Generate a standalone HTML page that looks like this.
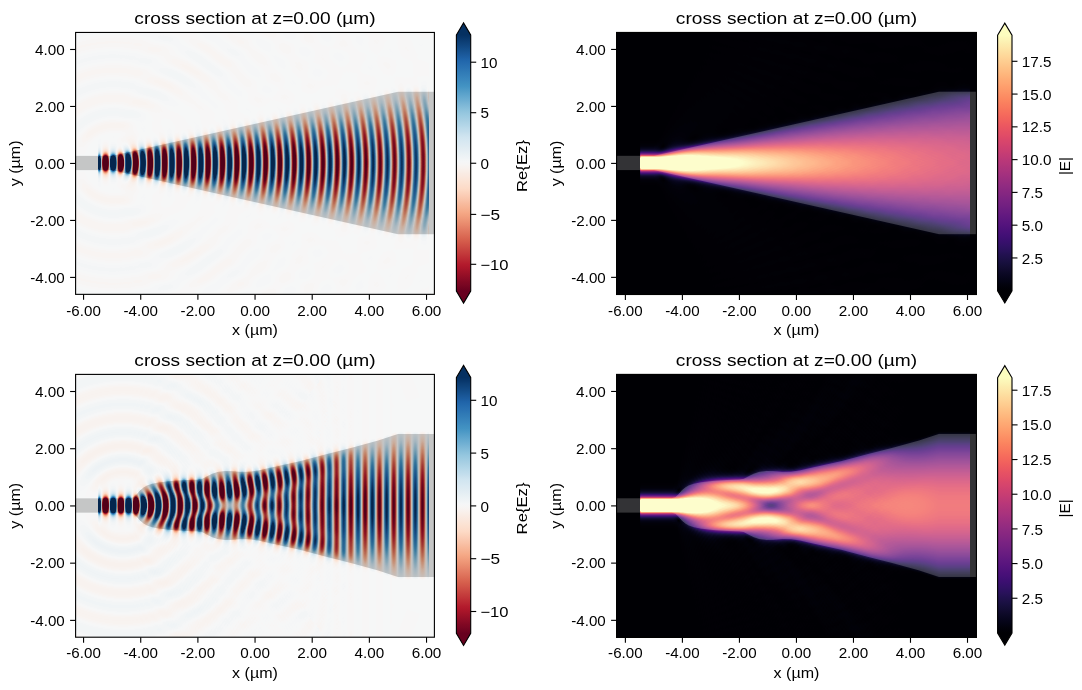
<!DOCTYPE html>
<html><head><meta charset="utf-8"><title>fields</title>
<style>
html,body{margin:0;padding:0;background:#fff;}
#root{position:relative;width:1082px;height:690px;overflow:hidden;background:#fff;}
#cv{position:absolute;left:0;top:0;}
#ov{position:absolute;left:0;top:0;}
text{fill:#000;}
</style></head><body><div id="root">
<svg id="fb" width="1082" height="690" viewBox="0 0 1082 690" style="position:absolute;left:0;top:0">
<clipPath id="fcTL"><rect x="97.9" y="32.5" width="330.7" height="261.9"/></clipPath>
<rect x="75.6" y="32.5" width="358.8" height="261.9" fill="#f6f7f7"/>
<linearGradient id="fsTL" gradientUnits="userSpaceOnUse" x1="97.86" y1="0" x2="112.25" y2="0" spreadMethod="repeat"><stop offset="0" stop-color="#f6f7f7"/><stop offset="0.12" stop-color="#2a6aa8"/><stop offset="0.25" stop-color="#0a3466"/><stop offset="0.38" stop-color="#2a6aa8"/><stop offset="0.5" stop-color="#f6f7f7"/><stop offset="0.62" stop-color="#c0393f"/><stop offset="0.75" stop-color="#7a0b24"/><stop offset="0.88" stop-color="#c0393f"/><stop offset="1" stop-color="#f6f7f7"/></linearGradient>
<linearGradient id="fsTLl" gradientUnits="userSpaceOnUse" x1="97.86" y1="0" x2="112.25" y2="0" spreadMethod="repeat"><stop offset="0" stop-color="#f6f7f7"/><stop offset="0.25" stop-color="#6fa6cf"/><stop offset="0.5" stop-color="#f6f7f7"/><stop offset="0.75" stop-color="#e0876e"/><stop offset="1" stop-color="#f6f7f7"/></linearGradient>
<filter id="bvTL" x="-5%" y="-20%" width="110%" height="140%"><feGaussianBlur stdDeviation="0 5"/></filter>
<g clip-path="url(#fcTL)"><polygon points="72.1,156.3 112.2,156.3 397.9,92.2 438.0,92.2 438.0,234.7 397.9,234.7 112.2,170.6 72.1,170.6" fill="url(#fsTLl)"/><polygon points="72.1,158.5 112.2,158.5 397.9,113.6 438.0,113.6 438.0,213.3 397.9,213.3 112.2,168.4 72.1,168.4" fill="url(#fsTL)" filter="url(#bvTL)"/></g>
<polygon points="72.1,156.3 112.2,156.3 397.9,92.2 438.0,92.2 438.0,234.7 397.9,234.7 112.2,170.6 72.1,170.6" fill="#000" fill-opacity="0.2"/>
<clipPath id="fcTR"><rect x="639.6" y="32.5" width="329.9" height="262.1"/></clipPath>
<rect x="616.6" y="32.5" width="359.8" height="262.1" fill="#000004"/>
<linearGradient id="faTR" gradientUnits="userSpaceOnUse" x1="639.6" y1="0" x2="969.5" y2="0"><stop offset="0" stop-color="#fcfdbf"/><stop offset="0.3" stop-color="#fcf0b0"/><stop offset="0.45" stop-color="#fdb482"/><stop offset="0.65" stop-color="#f2866e"/><stop offset="1" stop-color="#e0677a"/></linearGradient>
<filter id="bvTR" x="-5%" y="-20%" width="110%" height="140%"><feGaussianBlur stdDeviation="0 8"/></filter>
<g clip-path="url(#fcTR)"><polygon points="614.0,156.3 653.9,156.3 939.0,92.2 978.9,92.2 978.9,234.6 939.0,234.6 653.9,170.5 614.0,170.5" fill="#7a2a8a"/><polygon points="614.0,158.8 653.9,158.8 939.0,117.1 978.9,117.1 978.9,209.7 939.0,209.7 653.9,168.0 614.0,168.0" fill="url(#faTR)" filter="url(#bvTR)"/></g>
<polygon points="614.0,156.3 653.9,156.3 939.0,92.2 978.9,92.2 978.9,234.6 939.0,234.6 653.9,170.5 614.0,170.5" fill="#fff" fill-opacity="0.2"/>
<clipPath id="fcBL"><rect x="97.9" y="374.4" width="330.7" height="262.8"/></clipPath>
<rect x="75.6" y="374.4" width="358.8" height="262.8" fill="#f6f7f7"/>
<linearGradient id="fsBL" gradientUnits="userSpaceOnUse" x1="97.86" y1="0" x2="112.25" y2="0" spreadMethod="repeat"><stop offset="0" stop-color="#f6f7f7"/><stop offset="0.12" stop-color="#2a6aa8"/><stop offset="0.25" stop-color="#0a3466"/><stop offset="0.38" stop-color="#2a6aa8"/><stop offset="0.5" stop-color="#f6f7f7"/><stop offset="0.62" stop-color="#c0393f"/><stop offset="0.75" stop-color="#7a0b24"/><stop offset="0.88" stop-color="#c0393f"/><stop offset="1" stop-color="#f6f7f7"/></linearGradient>
<linearGradient id="fsBLl" gradientUnits="userSpaceOnUse" x1="97.86" y1="0" x2="112.25" y2="0" spreadMethod="repeat"><stop offset="0" stop-color="#f6f7f7"/><stop offset="0.25" stop-color="#6fa6cf"/><stop offset="0.5" stop-color="#f6f7f7"/><stop offset="0.75" stop-color="#e0876e"/><stop offset="1" stop-color="#f6f7f7"/></linearGradient>
<filter id="bvBL" x="-5%" y="-20%" width="110%" height="140%"><feGaussianBlur stdDeviation="0 5"/></filter>
<g clip-path="url(#fcBL)"><polygon points="72.1,498.8 129.9,498.8 133.6,497.7 136.7,494.8 140.2,490.8 143.6,487.9 147.0,485.9 152.2,484.2 159.3,482.8 172.2,481.3 186.5,480.5 197.9,480.1 202.2,479.3 206.5,477.1 212.2,474.2 217.9,472.3 225.0,471.5 232.2,471.6 240.8,472.3 249.3,472.2 257.9,471.0 266.5,469.0 300.2,461.6 325.9,454.7 351.9,448.2 377.9,441.0 397.9,434.4 438.0,434.4 438.0,577.5 397.9,577.5 377.9,570.9 351.9,563.7 325.9,557.2 300.2,550.3 266.5,542.9 257.9,540.9 249.3,539.7 240.8,539.6 232.2,540.3 225.0,540.4 217.9,539.6 212.2,537.7 206.5,534.8 202.2,532.6 197.9,531.8 186.5,531.4 172.2,530.6 159.3,529.1 152.2,527.7 147.0,526.0 143.6,524.0 140.2,521.1 136.7,517.1 133.6,514.2 129.9,513.1 72.1,513.1" fill="url(#fsBLl)"/><polygon points="72.1,500.9 129.9,500.9 133.6,500.1 136.7,498.1 140.2,495.3 143.6,493.3 147.0,491.9 152.2,490.7 159.3,489.7 172.2,488.7 186.5,488.1 197.9,487.8 202.2,487.3 206.5,485.7 212.2,483.7 217.9,482.4 225.0,481.8 232.2,481.9 240.8,482.4 249.3,482.3 257.9,481.5 266.5,480.1 300.2,474.9 325.9,470.1 351.9,465.5 377.9,460.5 397.9,455.9 438.0,455.9 438.0,556.0 397.9,556.0 377.9,551.4 351.9,546.4 325.9,541.8 300.2,537.0 266.5,531.8 257.9,530.4 249.3,529.6 240.8,529.5 232.2,530.0 225.0,530.1 217.9,529.5 212.2,528.2 206.5,526.2 202.2,524.6 197.9,524.1 186.5,523.8 172.2,523.2 159.3,522.2 152.2,521.2 147.0,520.0 143.6,518.6 140.2,516.6 136.7,513.8 133.6,511.8 129.9,511.0 72.1,511.0" fill="url(#fsBL)" filter="url(#bvBL)"/></g>
<polygon points="72.1,498.8 129.9,498.8 133.6,497.7 136.7,494.8 140.2,490.8 143.6,487.9 147.0,485.9 152.2,484.2 159.3,482.8 172.2,481.3 186.5,480.5 197.9,480.1 202.2,479.3 206.5,477.1 212.2,474.2 217.9,472.3 225.0,471.5 232.2,471.6 240.8,472.3 249.3,472.2 257.9,471.0 266.5,469.0 300.2,461.6 325.9,454.7 351.9,448.2 377.9,441.0 397.9,434.4 438.0,434.4 438.0,577.5 397.9,577.5 377.9,570.9 351.9,563.7 325.9,557.2 300.2,550.3 266.5,542.9 257.9,540.9 249.3,539.7 240.8,539.6 232.2,540.3 225.0,540.4 217.9,539.6 212.2,537.7 206.5,534.8 202.2,532.6 197.9,531.8 186.5,531.4 172.2,530.6 159.3,529.1 152.2,527.7 147.0,526.0 143.6,524.0 140.2,521.1 136.7,517.1 133.6,514.2 129.9,513.1 72.1,513.1" fill="#000" fill-opacity="0.2"/>
<clipPath id="fcBR"><rect x="639.6" y="374.4" width="329.9" height="262.9"/></clipPath>
<rect x="616.6" y="374.4" width="359.8" height="262.9" fill="#000004"/>
<linearGradient id="faBR" gradientUnits="userSpaceOnUse" x1="639.6" y1="0" x2="969.5" y2="0"><stop offset="0" stop-color="#fcfdbf"/><stop offset="0.3" stop-color="#fcf0b0"/><stop offset="0.45" stop-color="#fdb482"/><stop offset="0.65" stop-color="#f2866e"/><stop offset="1" stop-color="#e0677a"/></linearGradient>
<filter id="bvBR" x="-5%" y="-20%" width="110%" height="140%"><feGaussianBlur stdDeviation="0 8"/></filter>
<g clip-path="url(#fcBR)"><polygon points="614.0,498.7 671.6,498.7 675.3,497.6 678.4,494.7 681.8,490.7 685.3,487.9 688.7,485.9 693.8,484.2 700.9,482.7 713.8,481.3 728.0,480.4 739.4,480.0 743.7,479.3 748.0,477.0 753.7,474.1 759.4,472.3 766.5,471.4 773.6,471.6 782.2,472.3 790.7,472.1 799.3,471.0 807.9,469.0 841.5,461.6 867.2,454.7 893.1,448.1 919.0,441.0 939.0,434.4 978.9,434.4 978.9,577.4 939.0,577.4 919.0,570.8 893.1,563.7 867.2,557.1 841.5,550.2 807.9,542.8 799.3,540.8 790.7,539.7 782.2,539.5 773.6,540.2 766.5,540.4 759.4,539.5 753.7,537.7 748.0,534.8 743.7,532.5 739.4,531.8 728.0,531.4 713.8,530.5 700.9,529.1 693.8,527.6 688.7,525.9 685.3,523.9 681.8,521.1 678.4,517.1 675.3,514.2 671.6,513.1 614.0,513.1" fill="#7a2a8a"/><polygon points="614.0,501.3 671.6,501.3 675.3,500.5 678.4,498.6 681.8,496.0 685.3,494.2 688.7,492.9 693.8,491.8 700.9,490.8 713.8,489.9 728.0,489.3 739.4,489.1 743.7,488.6 748.0,487.1 753.7,485.3 759.4,484.0 766.5,483.5 773.6,483.6 782.2,484.0 790.7,484.0 799.3,483.2 807.9,481.9 841.5,477.1 867.2,472.6 893.1,468.3 919.0,463.7 939.0,459.4 978.9,459.4 978.9,552.4 939.0,552.4 919.0,548.1 893.1,543.5 867.2,539.2 841.5,534.7 807.9,529.9 799.3,528.6 790.7,527.8 782.2,527.8 773.6,528.2 766.5,528.3 759.4,527.8 753.7,526.5 748.0,524.7 743.7,523.2 739.4,522.7 728.0,522.5 713.8,521.9 700.9,521.0 693.8,520.0 688.7,518.9 685.3,517.6 681.8,515.8 678.4,513.2 675.3,511.3 671.6,510.5 614.0,510.5" fill="url(#faBR)" filter="url(#bvBR)"/></g>
<polygon points="614.0,498.7 671.6,498.7 675.3,497.6 678.4,494.7 681.8,490.7 685.3,487.9 688.7,485.9 693.8,484.2 700.9,482.7 713.8,481.3 728.0,480.4 739.4,480.0 743.7,479.3 748.0,477.0 753.7,474.1 759.4,472.3 766.5,471.4 773.6,471.6 782.2,472.3 790.7,472.1 799.3,471.0 807.9,469.0 841.5,461.6 867.2,454.7 893.1,448.1 919.0,441.0 939.0,434.4 978.9,434.4 978.9,577.4 939.0,577.4 919.0,570.8 893.1,563.7 867.2,557.1 841.5,550.2 807.9,542.8 799.3,540.8 790.7,539.7 782.2,539.5 773.6,540.2 766.5,540.4 759.4,539.5 753.7,537.7 748.0,534.8 743.7,532.5 739.4,531.8 728.0,531.4 713.8,530.5 700.9,529.1 693.8,527.6 688.7,525.9 685.3,523.9 681.8,521.1 678.4,517.1 675.3,514.2 671.6,513.1 614.0,513.1" fill="#fff" fill-opacity="0.2"/>
</svg>
<canvas id="cv" width="1082" height="690"></canvas>
<svg id="ov" width="1082" height="690" viewBox="0 0 1082 690" font-family="Liberation Sans, sans-serif">
<rect x="75.60" y="32.45" width="358.80" height="261.90" fill="none" stroke="#000" stroke-width="1.11"/>
<line x1="83.57" y1="294.35" x2="83.57" y2="299.85" stroke="#000" stroke-width="1.11"/>
<text x="83.57" y="315.90" font-size="14.70" text-anchor="middle" textLength="34.50" lengthAdjust="spacingAndGlyphs">-6.00</text>
<line x1="140.73" y1="294.35" x2="140.73" y2="299.85" stroke="#000" stroke-width="1.11"/>
<text x="140.73" y="315.90" font-size="14.70" text-anchor="middle" textLength="34.50" lengthAdjust="spacingAndGlyphs">-4.00</text>
<line x1="197.89" y1="294.35" x2="197.89" y2="299.85" stroke="#000" stroke-width="1.11"/>
<text x="197.89" y="315.90" font-size="14.70" text-anchor="middle" textLength="34.50" lengthAdjust="spacingAndGlyphs">-2.00</text>
<line x1="255.05" y1="294.35" x2="255.05" y2="299.85" stroke="#000" stroke-width="1.11"/>
<text x="255.05" y="315.90" font-size="14.70" text-anchor="middle" textLength="29.69" lengthAdjust="spacingAndGlyphs">0.00</text>
<line x1="312.21" y1="294.35" x2="312.21" y2="299.85" stroke="#000" stroke-width="1.11"/>
<text x="312.21" y="315.90" font-size="14.70" text-anchor="middle" textLength="29.69" lengthAdjust="spacingAndGlyphs">2.00</text>
<line x1="369.37" y1="294.35" x2="369.37" y2="299.85" stroke="#000" stroke-width="1.11"/>
<text x="369.37" y="315.90" font-size="14.70" text-anchor="middle" textLength="29.69" lengthAdjust="spacingAndGlyphs">4.00</text>
<line x1="426.53" y1="294.35" x2="426.53" y2="299.85" stroke="#000" stroke-width="1.11"/>
<text x="426.53" y="315.90" font-size="14.70" text-anchor="middle" textLength="29.69" lengthAdjust="spacingAndGlyphs">6.00</text>
<line x1="70.10" y1="277.41" x2="75.60" y2="277.41" stroke="#000" stroke-width="1.11"/>
<text x="64.80" y="282.61" font-size="14.70" text-anchor="end" textLength="34.50" lengthAdjust="spacingAndGlyphs">-4.00</text>
<line x1="70.10" y1="220.43" x2="75.60" y2="220.43" stroke="#000" stroke-width="1.11"/>
<text x="64.80" y="225.63" font-size="14.70" text-anchor="end" textLength="34.50" lengthAdjust="spacingAndGlyphs">-2.00</text>
<line x1="70.10" y1="163.45" x2="75.60" y2="163.45" stroke="#000" stroke-width="1.11"/>
<text x="64.80" y="168.65" font-size="14.70" text-anchor="end" textLength="29.69" lengthAdjust="spacingAndGlyphs">0.00</text>
<line x1="70.10" y1="106.47" x2="75.60" y2="106.47" stroke="#000" stroke-width="1.11"/>
<text x="64.80" y="111.67" font-size="14.70" text-anchor="end" textLength="29.69" lengthAdjust="spacingAndGlyphs">2.00</text>
<line x1="70.10" y1="49.49" x2="75.60" y2="49.49" stroke="#000" stroke-width="1.11"/>
<text x="64.80" y="54.69" font-size="14.70" text-anchor="end" textLength="29.69" lengthAdjust="spacingAndGlyphs">4.00</text>
<text x="255.00" y="334.95" font-size="14.70" text-anchor="middle" textLength="45.84" lengthAdjust="spacingAndGlyphs">x (µm)</text>
<text transform="translate(20.20 163.40) rotate(-90)" font-size="14.70" text-anchor="middle" textLength="45.84" lengthAdjust="spacingAndGlyphs">y (µm)</text>
<text x="255.00" y="24.15" font-size="17.40" text-anchor="middle" textLength="241.26" lengthAdjust="spacingAndGlyphs">cross section at z=0.00 (µm)</text>
<rect x="616.60" y="32.45" width="359.80" height="262.05" fill="none" stroke="#000" stroke-width="1.11"/>
<line x1="625.39" y1="294.50" x2="625.39" y2="300.00" stroke="#000" stroke-width="1.11"/>
<text x="625.39" y="316.05" font-size="14.70" text-anchor="middle" textLength="34.50" lengthAdjust="spacingAndGlyphs">-6.00</text>
<line x1="682.41" y1="294.50" x2="682.41" y2="300.00" stroke="#000" stroke-width="1.11"/>
<text x="682.41" y="316.05" font-size="14.70" text-anchor="middle" textLength="34.50" lengthAdjust="spacingAndGlyphs">-4.00</text>
<line x1="739.43" y1="294.50" x2="739.43" y2="300.00" stroke="#000" stroke-width="1.11"/>
<text x="739.43" y="316.05" font-size="14.70" text-anchor="middle" textLength="34.50" lengthAdjust="spacingAndGlyphs">-2.00</text>
<line x1="796.45" y1="294.50" x2="796.45" y2="300.00" stroke="#000" stroke-width="1.11"/>
<text x="796.45" y="316.05" font-size="14.70" text-anchor="middle" textLength="29.69" lengthAdjust="spacingAndGlyphs">0.00</text>
<line x1="853.47" y1="294.50" x2="853.47" y2="300.00" stroke="#000" stroke-width="1.11"/>
<text x="853.47" y="316.05" font-size="14.70" text-anchor="middle" textLength="29.69" lengthAdjust="spacingAndGlyphs">2.00</text>
<line x1="910.49" y1="294.50" x2="910.49" y2="300.00" stroke="#000" stroke-width="1.11"/>
<text x="910.49" y="316.05" font-size="14.70" text-anchor="middle" textLength="29.69" lengthAdjust="spacingAndGlyphs">4.00</text>
<line x1="967.51" y1="294.50" x2="967.51" y2="300.00" stroke="#000" stroke-width="1.11"/>
<text x="967.51" y="316.05" font-size="14.70" text-anchor="middle" textLength="29.69" lengthAdjust="spacingAndGlyphs">6.00</text>
<line x1="611.10" y1="277.36" x2="616.60" y2="277.36" stroke="#000" stroke-width="1.11"/>
<text x="605.80" y="282.56" font-size="14.70" text-anchor="end" textLength="34.50" lengthAdjust="spacingAndGlyphs">-4.00</text>
<line x1="611.10" y1="220.38" x2="616.60" y2="220.38" stroke="#000" stroke-width="1.11"/>
<text x="605.80" y="225.58" font-size="14.70" text-anchor="end" textLength="34.50" lengthAdjust="spacingAndGlyphs">-2.00</text>
<line x1="611.10" y1="163.40" x2="616.60" y2="163.40" stroke="#000" stroke-width="1.11"/>
<text x="605.80" y="168.60" font-size="14.70" text-anchor="end" textLength="29.69" lengthAdjust="spacingAndGlyphs">0.00</text>
<line x1="611.10" y1="106.42" x2="616.60" y2="106.42" stroke="#000" stroke-width="1.11"/>
<text x="605.80" y="111.62" font-size="14.70" text-anchor="end" textLength="29.69" lengthAdjust="spacingAndGlyphs">2.00</text>
<line x1="611.10" y1="49.44" x2="616.60" y2="49.44" stroke="#000" stroke-width="1.11"/>
<text x="605.80" y="54.64" font-size="14.70" text-anchor="end" textLength="29.69" lengthAdjust="spacingAndGlyphs">4.00</text>
<text x="796.50" y="335.10" font-size="14.70" text-anchor="middle" textLength="45.84" lengthAdjust="spacingAndGlyphs">x (µm)</text>
<text transform="translate(561.20 163.47) rotate(-90)" font-size="14.70" text-anchor="middle" textLength="45.84" lengthAdjust="spacingAndGlyphs">y (µm)</text>
<text x="796.50" y="24.15" font-size="17.40" text-anchor="middle" textLength="241.26" lengthAdjust="spacingAndGlyphs">cross section at z=0.00 (µm)</text>
<rect x="75.60" y="374.40" width="358.80" height="262.80" fill="none" stroke="#000" stroke-width="1.11"/>
<line x1="83.57" y1="637.20" x2="83.57" y2="642.70" stroke="#000" stroke-width="1.11"/>
<text x="83.57" y="658.05" font-size="14.70" text-anchor="middle" textLength="34.50" lengthAdjust="spacingAndGlyphs">-6.00</text>
<line x1="140.73" y1="637.20" x2="140.73" y2="642.70" stroke="#000" stroke-width="1.11"/>
<text x="140.73" y="658.05" font-size="14.70" text-anchor="middle" textLength="34.50" lengthAdjust="spacingAndGlyphs">-4.00</text>
<line x1="197.89" y1="637.20" x2="197.89" y2="642.70" stroke="#000" stroke-width="1.11"/>
<text x="197.89" y="658.05" font-size="14.70" text-anchor="middle" textLength="34.50" lengthAdjust="spacingAndGlyphs">-2.00</text>
<line x1="255.05" y1="637.20" x2="255.05" y2="642.70" stroke="#000" stroke-width="1.11"/>
<text x="255.05" y="658.05" font-size="14.70" text-anchor="middle" textLength="29.69" lengthAdjust="spacingAndGlyphs">0.00</text>
<line x1="312.21" y1="637.20" x2="312.21" y2="642.70" stroke="#000" stroke-width="1.11"/>
<text x="312.21" y="658.05" font-size="14.70" text-anchor="middle" textLength="29.69" lengthAdjust="spacingAndGlyphs">2.00</text>
<line x1="369.37" y1="637.20" x2="369.37" y2="642.70" stroke="#000" stroke-width="1.11"/>
<text x="369.37" y="658.05" font-size="14.70" text-anchor="middle" textLength="29.69" lengthAdjust="spacingAndGlyphs">4.00</text>
<line x1="426.53" y1="637.20" x2="426.53" y2="642.70" stroke="#000" stroke-width="1.11"/>
<text x="426.53" y="658.05" font-size="14.70" text-anchor="middle" textLength="29.69" lengthAdjust="spacingAndGlyphs">6.00</text>
<line x1="70.10" y1="620.39" x2="75.60" y2="620.39" stroke="#000" stroke-width="1.11"/>
<text x="64.80" y="625.59" font-size="14.70" text-anchor="end" textLength="34.50" lengthAdjust="spacingAndGlyphs">-4.00</text>
<line x1="70.10" y1="563.17" x2="75.60" y2="563.17" stroke="#000" stroke-width="1.11"/>
<text x="64.80" y="568.37" font-size="14.70" text-anchor="end" textLength="34.50" lengthAdjust="spacingAndGlyphs">-2.00</text>
<line x1="70.10" y1="505.95" x2="75.60" y2="505.95" stroke="#000" stroke-width="1.11"/>
<text x="64.80" y="511.15" font-size="14.70" text-anchor="end" textLength="29.69" lengthAdjust="spacingAndGlyphs">0.00</text>
<line x1="70.10" y1="448.73" x2="75.60" y2="448.73" stroke="#000" stroke-width="1.11"/>
<text x="64.80" y="453.93" font-size="14.70" text-anchor="end" textLength="29.69" lengthAdjust="spacingAndGlyphs">2.00</text>
<line x1="70.10" y1="391.51" x2="75.60" y2="391.51" stroke="#000" stroke-width="1.11"/>
<text x="64.80" y="396.71" font-size="14.70" text-anchor="end" textLength="29.69" lengthAdjust="spacingAndGlyphs">4.00</text>
<text x="255.00" y="677.80" font-size="14.70" text-anchor="middle" textLength="45.84" lengthAdjust="spacingAndGlyphs">x (µm)</text>
<text transform="translate(20.20 505.80) rotate(-90)" font-size="14.70" text-anchor="middle" textLength="45.84" lengthAdjust="spacingAndGlyphs">y (µm)</text>
<text x="255.00" y="366.10" font-size="17.40" text-anchor="middle" textLength="241.26" lengthAdjust="spacingAndGlyphs">cross section at z=0.00 (µm)</text>
<rect x="616.60" y="374.40" width="359.80" height="262.90" fill="none" stroke="#000" stroke-width="1.11"/>
<line x1="625.39" y1="637.30" x2="625.39" y2="642.80" stroke="#000" stroke-width="1.11"/>
<text x="625.39" y="658.15" font-size="14.70" text-anchor="middle" textLength="34.50" lengthAdjust="spacingAndGlyphs">-6.00</text>
<line x1="682.41" y1="637.30" x2="682.41" y2="642.80" stroke="#000" stroke-width="1.11"/>
<text x="682.41" y="658.15" font-size="14.70" text-anchor="middle" textLength="34.50" lengthAdjust="spacingAndGlyphs">-4.00</text>
<line x1="739.43" y1="637.30" x2="739.43" y2="642.80" stroke="#000" stroke-width="1.11"/>
<text x="739.43" y="658.15" font-size="14.70" text-anchor="middle" textLength="34.50" lengthAdjust="spacingAndGlyphs">-2.00</text>
<line x1="796.45" y1="637.30" x2="796.45" y2="642.80" stroke="#000" stroke-width="1.11"/>
<text x="796.45" y="658.15" font-size="14.70" text-anchor="middle" textLength="29.69" lengthAdjust="spacingAndGlyphs">0.00</text>
<line x1="853.47" y1="637.30" x2="853.47" y2="642.80" stroke="#000" stroke-width="1.11"/>
<text x="853.47" y="658.15" font-size="14.70" text-anchor="middle" textLength="29.69" lengthAdjust="spacingAndGlyphs">2.00</text>
<line x1="910.49" y1="637.30" x2="910.49" y2="642.80" stroke="#000" stroke-width="1.11"/>
<text x="910.49" y="658.15" font-size="14.70" text-anchor="middle" textLength="29.69" lengthAdjust="spacingAndGlyphs">4.00</text>
<line x1="967.51" y1="637.30" x2="967.51" y2="642.80" stroke="#000" stroke-width="1.11"/>
<text x="967.51" y="658.15" font-size="14.70" text-anchor="middle" textLength="29.69" lengthAdjust="spacingAndGlyphs">6.00</text>
<line x1="611.10" y1="620.34" x2="616.60" y2="620.34" stroke="#000" stroke-width="1.11"/>
<text x="605.80" y="625.54" font-size="14.70" text-anchor="end" textLength="34.50" lengthAdjust="spacingAndGlyphs">-4.00</text>
<line x1="611.10" y1="563.12" x2="616.60" y2="563.12" stroke="#000" stroke-width="1.11"/>
<text x="605.80" y="568.32" font-size="14.70" text-anchor="end" textLength="34.50" lengthAdjust="spacingAndGlyphs">-2.00</text>
<line x1="611.10" y1="505.90" x2="616.60" y2="505.90" stroke="#000" stroke-width="1.11"/>
<text x="605.80" y="511.10" font-size="14.70" text-anchor="end" textLength="29.69" lengthAdjust="spacingAndGlyphs">0.00</text>
<line x1="611.10" y1="448.68" x2="616.60" y2="448.68" stroke="#000" stroke-width="1.11"/>
<text x="605.80" y="453.88" font-size="14.70" text-anchor="end" textLength="29.69" lengthAdjust="spacingAndGlyphs">2.00</text>
<line x1="611.10" y1="391.46" x2="616.60" y2="391.46" stroke="#000" stroke-width="1.11"/>
<text x="605.80" y="396.66" font-size="14.70" text-anchor="end" textLength="29.69" lengthAdjust="spacingAndGlyphs">4.00</text>
<text x="796.50" y="677.90" font-size="14.70" text-anchor="middle" textLength="45.84" lengthAdjust="spacingAndGlyphs">x (µm)</text>
<text transform="translate(561.20 505.85) rotate(-90)" font-size="14.70" text-anchor="middle" textLength="45.84" lengthAdjust="spacingAndGlyphs">y (µm)</text>
<text x="796.50" y="366.10" font-size="17.40" text-anchor="middle" textLength="241.26" lengthAdjust="spacingAndGlyphs">cross section at z=0.00 (µm)</text>
<defs><linearGradient id="gTL" gradientUnits="userSpaceOnUse" x1="0" y1="35.00" x2="0" y2="291.00"><stop offset="0.0000" stop-color="#053061"/><stop offset="0.0118" stop-color="#08366a"/><stop offset="0.0235" stop-color="#0c3d73"/><stop offset="0.0353" stop-color="#0f437b"/><stop offset="0.0471" stop-color="#124984"/><stop offset="0.0588" stop-color="#15508d"/><stop offset="0.0706" stop-color="#195696"/><stop offset="0.0824" stop-color="#1c5c9f"/><stop offset="0.0941" stop-color="#1f63a8"/><stop offset="0.1059" stop-color="#2369ad"/><stop offset="0.1176" stop-color="#276eb0"/><stop offset="0.1294" stop-color="#2b73b3"/><stop offset="0.1412" stop-color="#2f79b5"/><stop offset="0.1529" stop-color="#337eb8"/><stop offset="0.1647" stop-color="#3783bb"/><stop offset="0.1765" stop-color="#3b88be"/><stop offset="0.1882" stop-color="#3f8ec0"/><stop offset="0.2000" stop-color="#4393c3"/><stop offset="0.2118" stop-color="#4c99c6"/><stop offset="0.2235" stop-color="#569fc9"/><stop offset="0.2353" stop-color="#5fa5cd"/><stop offset="0.2471" stop-color="#68abd0"/><stop offset="0.2588" stop-color="#71b0d3"/><stop offset="0.2706" stop-color="#7bb6d6"/><stop offset="0.2824" stop-color="#84bcd9"/><stop offset="0.2941" stop-color="#8dc2dc"/><stop offset="0.3059" stop-color="#96c7df"/><stop offset="0.3176" stop-color="#9dcbe1"/><stop offset="0.3294" stop-color="#a5cee3"/><stop offset="0.3412" stop-color="#acd2e5"/><stop offset="0.3529" stop-color="#b3d6e8"/><stop offset="0.3647" stop-color="#bbdaea"/><stop offset="0.3765" stop-color="#c2ddec"/><stop offset="0.3882" stop-color="#cae1ee"/><stop offset="0.4000" stop-color="#d1e5f0"/><stop offset="0.4118" stop-color="#d5e7f1"/><stop offset="0.4235" stop-color="#dae9f2"/><stop offset="0.4353" stop-color="#deebf2"/><stop offset="0.4471" stop-color="#e3edf3"/><stop offset="0.4588" stop-color="#e7f0f4"/><stop offset="0.4706" stop-color="#ecf2f5"/><stop offset="0.4824" stop-color="#f0f4f6"/><stop offset="0.4941" stop-color="#f5f6f7"/><stop offset="0.5059" stop-color="#f7f5f4"/><stop offset="0.5176" stop-color="#f8f2ef"/><stop offset="0.5294" stop-color="#f9efe9"/><stop offset="0.5412" stop-color="#f9ebe3"/><stop offset="0.5529" stop-color="#fae8de"/><stop offset="0.5647" stop-color="#fbe5d8"/><stop offset="0.5765" stop-color="#fce2d2"/><stop offset="0.5882" stop-color="#fcdecd"/><stop offset="0.6000" stop-color="#fddbc7"/><stop offset="0.6118" stop-color="#fcd5bf"/><stop offset="0.6235" stop-color="#fbceb7"/><stop offset="0.6353" stop-color="#fac8af"/><stop offset="0.6471" stop-color="#f9c2a7"/><stop offset="0.6588" stop-color="#f8bb9e"/><stop offset="0.6706" stop-color="#f7b596"/><stop offset="0.6824" stop-color="#f6af8e"/><stop offset="0.6941" stop-color="#f5a886"/><stop offset="0.7059" stop-color="#f2a17f"/><stop offset="0.7176" stop-color="#ef9979"/><stop offset="0.7294" stop-color="#eb9172"/><stop offset="0.7412" stop-color="#e8896c"/><stop offset="0.7529" stop-color="#e48066"/><stop offset="0.7647" stop-color="#e17860"/><stop offset="0.7765" stop-color="#dd7059"/><stop offset="0.7882" stop-color="#da6853"/><stop offset="0.8000" stop-color="#d6604d"/><stop offset="0.8118" stop-color="#d25849"/><stop offset="0.8235" stop-color="#ce4f45"/><stop offset="0.8353" stop-color="#c94741"/><stop offset="0.8471" stop-color="#c53e3d"/><stop offset="0.8588" stop-color="#c13639"/><stop offset="0.8706" stop-color="#bd2d35"/><stop offset="0.8824" stop-color="#b82531"/><stop offset="0.8941" stop-color="#b41c2d"/><stop offset="0.9059" stop-color="#ae172a"/><stop offset="0.9176" stop-color="#a51429"/><stop offset="0.9294" stop-color="#9c1127"/><stop offset="0.9412" stop-color="#930e26"/><stop offset="0.9529" stop-color="#8a0b25"/><stop offset="0.9647" stop-color="#810823"/><stop offset="0.9765" stop-color="#790622"/><stop offset="0.9882" stop-color="#700320"/><stop offset="1.0000" stop-color="#67001f"/><stop offset="1" stop-color="#67001f"/></linearGradient></defs>
<polygon points="456.40,35.00 463.55,22.90 470.70,35.00 470.70,291.00 463.55,303.10 456.40,291.00" fill="url(#gTL)"/>
<polygon points="456.40,35.00 463.55,22.90 470.70,35.00 470.70,291.00 463.55,303.10 456.40,291.00" fill="none" stroke="#000" stroke-width="1.11" stroke-linejoin="miter"/>
<line x1="470.70" y1="62.20" x2="476.20" y2="62.20" stroke="#000" stroke-width="1.11"/>
<text x="480.42" y="67.80" font-size="14.70" textLength="16.97" lengthAdjust="spacingAndGlyphs">10</text>
<line x1="470.70" y1="112.70" x2="476.20" y2="112.70" stroke="#000" stroke-width="1.11"/>
<text x="480.42" y="118.30" font-size="14.70" textLength="8.48" lengthAdjust="spacingAndGlyphs">5</text>
<line x1="470.70" y1="163.25" x2="476.20" y2="163.25" stroke="#000" stroke-width="1.11"/>
<text x="480.42" y="168.85" font-size="14.70" textLength="8.48" lengthAdjust="spacingAndGlyphs">0</text>
<line x1="470.70" y1="214.40" x2="476.20" y2="214.40" stroke="#000" stroke-width="1.11"/>
<text x="480.42" y="220.00" font-size="14.70" textLength="19.66" lengthAdjust="spacingAndGlyphs">−5</text>
<line x1="470.70" y1="264.30" x2="476.20" y2="264.30" stroke="#000" stroke-width="1.11"/>
<text x="480.42" y="269.90" font-size="14.70" textLength="28.14" lengthAdjust="spacingAndGlyphs">−10</text>
<text transform="translate(527.40 166.00) rotate(-90)" font-size="14.70" text-anchor="middle" textLength="51.94" lengthAdjust="spacingAndGlyphs">Re{Ez}</text>
<defs><linearGradient id="gTR" gradientUnits="userSpaceOnUse" x1="0" y1="35.20" x2="0" y2="290.90"><stop offset="0.0000" stop-color="#fcfdbf"/><stop offset="0.0118" stop-color="#fcf7b9"/><stop offset="0.0235" stop-color="#fcf2b4"/><stop offset="0.0353" stop-color="#fcecae"/><stop offset="0.0471" stop-color="#fde7a9"/><stop offset="0.0588" stop-color="#fde2a3"/><stop offset="0.0706" stop-color="#fddc9e"/><stop offset="0.0824" stop-color="#fed799"/><stop offset="0.0941" stop-color="#fed194"/><stop offset="0.1059" stop-color="#fecc8f"/><stop offset="0.1176" stop-color="#fec68a"/><stop offset="0.1294" stop-color="#fec185"/><stop offset="0.1412" stop-color="#febb81"/><stop offset="0.1529" stop-color="#feb67c"/><stop offset="0.1647" stop-color="#feb078"/><stop offset="0.1765" stop-color="#feaa74"/><stop offset="0.1882" stop-color="#fea571"/><stop offset="0.2000" stop-color="#fe9f6d"/><stop offset="0.2118" stop-color="#fd9a6a"/><stop offset="0.2235" stop-color="#fd9467"/><stop offset="0.2353" stop-color="#fc8e64"/><stop offset="0.2471" stop-color="#fc8961"/><stop offset="0.2588" stop-color="#fb835f"/><stop offset="0.2706" stop-color="#fa7d5e"/><stop offset="0.2824" stop-color="#f9785d"/><stop offset="0.2941" stop-color="#f7725c"/><stop offset="0.3059" stop-color="#f66c5c"/><stop offset="0.3176" stop-color="#f4675c"/><stop offset="0.3294" stop-color="#f2625d"/><stop offset="0.3412" stop-color="#ef5d5e"/><stop offset="0.3529" stop-color="#ec5860"/><stop offset="0.3647" stop-color="#e95462"/><stop offset="0.3765" stop-color="#e55064"/><stop offset="0.3882" stop-color="#e24d66"/><stop offset="0.4000" stop-color="#de4968"/><stop offset="0.4118" stop-color="#d9466b"/><stop offset="0.4235" stop-color="#d5446d"/><stop offset="0.4353" stop-color="#d0416f"/><stop offset="0.4471" stop-color="#cc3f71"/><stop offset="0.4588" stop-color="#c73d73"/><stop offset="0.4706" stop-color="#c23b75"/><stop offset="0.4824" stop-color="#bd3977"/><stop offset="0.4941" stop-color="#b83779"/><stop offset="0.5059" stop-color="#b3367a"/><stop offset="0.5176" stop-color="#ae347b"/><stop offset="0.5294" stop-color="#aa337d"/><stop offset="0.5412" stop-color="#a5317e"/><stop offset="0.5529" stop-color="#a02f7f"/><stop offset="0.5647" stop-color="#9b2e7f"/><stop offset="0.5765" stop-color="#962c80"/><stop offset="0.5882" stop-color="#912b81"/><stop offset="0.6000" stop-color="#8c2981"/><stop offset="0.6118" stop-color="#882781"/><stop offset="0.6235" stop-color="#832681"/><stop offset="0.6353" stop-color="#7e2482"/><stop offset="0.6471" stop-color="#792282"/><stop offset="0.6588" stop-color="#752181"/><stop offset="0.6706" stop-color="#701f81"/><stop offset="0.6824" stop-color="#6b1d81"/><stop offset="0.6941" stop-color="#671b80"/><stop offset="0.7059" stop-color="#621980"/><stop offset="0.7176" stop-color="#5d177f"/><stop offset="0.7294" stop-color="#59157e"/><stop offset="0.7412" stop-color="#54137d"/><stop offset="0.7529" stop-color="#4f127b"/><stop offset="0.7647" stop-color="#4a1079"/><stop offset="0.7765" stop-color="#451077"/><stop offset="0.7882" stop-color="#400f74"/><stop offset="0.8000" stop-color="#3b0f70"/><stop offset="0.8118" stop-color="#36106b"/><stop offset="0.8235" stop-color="#311165"/><stop offset="0.8353" stop-color="#2c115f"/><stop offset="0.8471" stop-color="#271258"/><stop offset="0.8588" stop-color="#221150"/><stop offset="0.8706" stop-color="#1e1149"/><stop offset="0.8824" stop-color="#1a1042"/><stop offset="0.8941" stop-color="#160f3b"/><stop offset="0.9059" stop-color="#130d34"/><stop offset="0.9176" stop-color="#100b2d"/><stop offset="0.9294" stop-color="#0c0926"/><stop offset="0.9412" stop-color="#090720"/><stop offset="0.9529" stop-color="#06051a"/><stop offset="0.9647" stop-color="#040414"/><stop offset="0.9765" stop-color="#02020d"/><stop offset="0.9882" stop-color="#010108"/><stop offset="1.0000" stop-color="#000004"/><stop offset="1" stop-color="#000004"/></linearGradient></defs>
<polygon points="997.60,35.20 1004.80,23.10 1012.00,35.20 1012.00,290.90 1004.80,303.00 997.60,290.90" fill="url(#gTR)"/>
<polygon points="997.60,35.20 1004.80,23.10 1012.00,35.20 1012.00,290.90 1004.80,303.00 997.60,290.90" fill="none" stroke="#000" stroke-width="1.11" stroke-linejoin="miter"/>
<line x1="1012.00" y1="61.30" x2="1017.50" y2="61.30" stroke="#000" stroke-width="1.11"/>
<text x="1021.72" y="66.90" font-size="14.70" textLength="29.69" lengthAdjust="spacingAndGlyphs">17.5</text>
<line x1="1012.00" y1="94.07" x2="1017.50" y2="94.07" stroke="#000" stroke-width="1.11"/>
<text x="1021.72" y="99.67" font-size="14.70" textLength="29.69" lengthAdjust="spacingAndGlyphs">15.0</text>
<line x1="1012.00" y1="126.85" x2="1017.50" y2="126.85" stroke="#000" stroke-width="1.11"/>
<text x="1021.72" y="132.45" font-size="14.70" textLength="29.69" lengthAdjust="spacingAndGlyphs">12.5</text>
<line x1="1012.00" y1="159.62" x2="1017.50" y2="159.62" stroke="#000" stroke-width="1.11"/>
<text x="1021.72" y="165.22" font-size="14.70" textLength="29.69" lengthAdjust="spacingAndGlyphs">10.0</text>
<line x1="1012.00" y1="192.40" x2="1017.50" y2="192.40" stroke="#000" stroke-width="1.11"/>
<text x="1021.72" y="198.00" font-size="14.70" textLength="21.21" lengthAdjust="spacingAndGlyphs">7.5</text>
<line x1="1012.00" y1="225.18" x2="1017.50" y2="225.18" stroke="#000" stroke-width="1.11"/>
<text x="1021.72" y="230.78" font-size="14.70" textLength="21.21" lengthAdjust="spacingAndGlyphs">5.0</text>
<line x1="1012.00" y1="257.95" x2="1017.50" y2="257.95" stroke="#000" stroke-width="1.11"/>
<text x="1021.72" y="263.55" font-size="14.70" textLength="21.21" lengthAdjust="spacingAndGlyphs">2.5</text>
<text transform="translate(1070.00 166.05) rotate(-90)" font-size="14.70" text-anchor="middle" textLength="18.14" lengthAdjust="spacingAndGlyphs">|E|</text>
<defs><linearGradient id="gBL" gradientUnits="userSpaceOnUse" x1="0" y1="377.50" x2="0" y2="633.40"><stop offset="0.0000" stop-color="#053061"/><stop offset="0.0118" stop-color="#08366a"/><stop offset="0.0235" stop-color="#0c3d73"/><stop offset="0.0353" stop-color="#0f437b"/><stop offset="0.0471" stop-color="#124984"/><stop offset="0.0588" stop-color="#15508d"/><stop offset="0.0706" stop-color="#195696"/><stop offset="0.0824" stop-color="#1c5c9f"/><stop offset="0.0941" stop-color="#1f63a8"/><stop offset="0.1059" stop-color="#2369ad"/><stop offset="0.1176" stop-color="#276eb0"/><stop offset="0.1294" stop-color="#2b73b3"/><stop offset="0.1412" stop-color="#2f79b5"/><stop offset="0.1529" stop-color="#337eb8"/><stop offset="0.1647" stop-color="#3783bb"/><stop offset="0.1765" stop-color="#3b88be"/><stop offset="0.1882" stop-color="#3f8ec0"/><stop offset="0.2000" stop-color="#4393c3"/><stop offset="0.2118" stop-color="#4c99c6"/><stop offset="0.2235" stop-color="#569fc9"/><stop offset="0.2353" stop-color="#5fa5cd"/><stop offset="0.2471" stop-color="#68abd0"/><stop offset="0.2588" stop-color="#71b0d3"/><stop offset="0.2706" stop-color="#7bb6d6"/><stop offset="0.2824" stop-color="#84bcd9"/><stop offset="0.2941" stop-color="#8dc2dc"/><stop offset="0.3059" stop-color="#96c7df"/><stop offset="0.3176" stop-color="#9dcbe1"/><stop offset="0.3294" stop-color="#a5cee3"/><stop offset="0.3412" stop-color="#acd2e5"/><stop offset="0.3529" stop-color="#b3d6e8"/><stop offset="0.3647" stop-color="#bbdaea"/><stop offset="0.3765" stop-color="#c2ddec"/><stop offset="0.3882" stop-color="#cae1ee"/><stop offset="0.4000" stop-color="#d1e5f0"/><stop offset="0.4118" stop-color="#d5e7f1"/><stop offset="0.4235" stop-color="#dae9f2"/><stop offset="0.4353" stop-color="#deebf2"/><stop offset="0.4471" stop-color="#e3edf3"/><stop offset="0.4588" stop-color="#e7f0f4"/><stop offset="0.4706" stop-color="#ecf2f5"/><stop offset="0.4824" stop-color="#f0f4f6"/><stop offset="0.4941" stop-color="#f5f6f7"/><stop offset="0.5059" stop-color="#f7f5f4"/><stop offset="0.5176" stop-color="#f8f2ef"/><stop offset="0.5294" stop-color="#f9efe9"/><stop offset="0.5412" stop-color="#f9ebe3"/><stop offset="0.5529" stop-color="#fae8de"/><stop offset="0.5647" stop-color="#fbe5d8"/><stop offset="0.5765" stop-color="#fce2d2"/><stop offset="0.5882" stop-color="#fcdecd"/><stop offset="0.6000" stop-color="#fddbc7"/><stop offset="0.6118" stop-color="#fcd5bf"/><stop offset="0.6235" stop-color="#fbceb7"/><stop offset="0.6353" stop-color="#fac8af"/><stop offset="0.6471" stop-color="#f9c2a7"/><stop offset="0.6588" stop-color="#f8bb9e"/><stop offset="0.6706" stop-color="#f7b596"/><stop offset="0.6824" stop-color="#f6af8e"/><stop offset="0.6941" stop-color="#f5a886"/><stop offset="0.7059" stop-color="#f2a17f"/><stop offset="0.7176" stop-color="#ef9979"/><stop offset="0.7294" stop-color="#eb9172"/><stop offset="0.7412" stop-color="#e8896c"/><stop offset="0.7529" stop-color="#e48066"/><stop offset="0.7647" stop-color="#e17860"/><stop offset="0.7765" stop-color="#dd7059"/><stop offset="0.7882" stop-color="#da6853"/><stop offset="0.8000" stop-color="#d6604d"/><stop offset="0.8118" stop-color="#d25849"/><stop offset="0.8235" stop-color="#ce4f45"/><stop offset="0.8353" stop-color="#c94741"/><stop offset="0.8471" stop-color="#c53e3d"/><stop offset="0.8588" stop-color="#c13639"/><stop offset="0.8706" stop-color="#bd2d35"/><stop offset="0.8824" stop-color="#b82531"/><stop offset="0.8941" stop-color="#b41c2d"/><stop offset="0.9059" stop-color="#ae172a"/><stop offset="0.9176" stop-color="#a51429"/><stop offset="0.9294" stop-color="#9c1127"/><stop offset="0.9412" stop-color="#930e26"/><stop offset="0.9529" stop-color="#8a0b25"/><stop offset="0.9647" stop-color="#810823"/><stop offset="0.9765" stop-color="#790622"/><stop offset="0.9882" stop-color="#700320"/><stop offset="1.0000" stop-color="#67001f"/><stop offset="1" stop-color="#67001f"/></linearGradient></defs>
<polygon points="456.40,377.50 463.55,365.40 470.70,377.50 470.70,633.40 463.55,645.50 456.40,633.40" fill="url(#gBL)"/>
<polygon points="456.40,377.50 463.55,365.40 470.70,377.50 470.70,633.40 463.55,645.50 456.40,633.40" fill="none" stroke="#000" stroke-width="1.11" stroke-linejoin="miter"/>
<line x1="470.70" y1="400.30" x2="476.20" y2="400.30" stroke="#000" stroke-width="1.11"/>
<text x="480.42" y="405.90" font-size="14.70" textLength="16.97" lengthAdjust="spacingAndGlyphs">10</text>
<line x1="470.70" y1="453.10" x2="476.20" y2="453.10" stroke="#000" stroke-width="1.11"/>
<text x="480.42" y="458.70" font-size="14.70" textLength="8.48" lengthAdjust="spacingAndGlyphs">5</text>
<line x1="470.70" y1="505.90" x2="476.20" y2="505.90" stroke="#000" stroke-width="1.11"/>
<text x="480.42" y="511.50" font-size="14.70" textLength="8.48" lengthAdjust="spacingAndGlyphs">0</text>
<line x1="470.70" y1="558.70" x2="476.20" y2="558.70" stroke="#000" stroke-width="1.11"/>
<text x="480.42" y="564.30" font-size="14.70" textLength="19.66" lengthAdjust="spacingAndGlyphs">−5</text>
<line x1="470.70" y1="611.50" x2="476.20" y2="611.50" stroke="#000" stroke-width="1.11"/>
<text x="480.42" y="617.10" font-size="14.70" textLength="28.14" lengthAdjust="spacingAndGlyphs">−10</text>
<text transform="translate(527.40 508.45) rotate(-90)" font-size="14.70" text-anchor="middle" textLength="51.94" lengthAdjust="spacingAndGlyphs">Re{Ez}</text>
<defs><linearGradient id="gBR" gradientUnits="userSpaceOnUse" x1="0" y1="377.80" x2="0" y2="633.00"><stop offset="0.0000" stop-color="#fcfdbf"/><stop offset="0.0118" stop-color="#fcf7b9"/><stop offset="0.0235" stop-color="#fcf2b4"/><stop offset="0.0353" stop-color="#fcecae"/><stop offset="0.0471" stop-color="#fde7a9"/><stop offset="0.0588" stop-color="#fde2a3"/><stop offset="0.0706" stop-color="#fddc9e"/><stop offset="0.0824" stop-color="#fed799"/><stop offset="0.0941" stop-color="#fed194"/><stop offset="0.1059" stop-color="#fecc8f"/><stop offset="0.1176" stop-color="#fec68a"/><stop offset="0.1294" stop-color="#fec185"/><stop offset="0.1412" stop-color="#febb81"/><stop offset="0.1529" stop-color="#feb67c"/><stop offset="0.1647" stop-color="#feb078"/><stop offset="0.1765" stop-color="#feaa74"/><stop offset="0.1882" stop-color="#fea571"/><stop offset="0.2000" stop-color="#fe9f6d"/><stop offset="0.2118" stop-color="#fd9a6a"/><stop offset="0.2235" stop-color="#fd9467"/><stop offset="0.2353" stop-color="#fc8e64"/><stop offset="0.2471" stop-color="#fc8961"/><stop offset="0.2588" stop-color="#fb835f"/><stop offset="0.2706" stop-color="#fa7d5e"/><stop offset="0.2824" stop-color="#f9785d"/><stop offset="0.2941" stop-color="#f7725c"/><stop offset="0.3059" stop-color="#f66c5c"/><stop offset="0.3176" stop-color="#f4675c"/><stop offset="0.3294" stop-color="#f2625d"/><stop offset="0.3412" stop-color="#ef5d5e"/><stop offset="0.3529" stop-color="#ec5860"/><stop offset="0.3647" stop-color="#e95462"/><stop offset="0.3765" stop-color="#e55064"/><stop offset="0.3882" stop-color="#e24d66"/><stop offset="0.4000" stop-color="#de4968"/><stop offset="0.4118" stop-color="#d9466b"/><stop offset="0.4235" stop-color="#d5446d"/><stop offset="0.4353" stop-color="#d0416f"/><stop offset="0.4471" stop-color="#cc3f71"/><stop offset="0.4588" stop-color="#c73d73"/><stop offset="0.4706" stop-color="#c23b75"/><stop offset="0.4824" stop-color="#bd3977"/><stop offset="0.4941" stop-color="#b83779"/><stop offset="0.5059" stop-color="#b3367a"/><stop offset="0.5176" stop-color="#ae347b"/><stop offset="0.5294" stop-color="#aa337d"/><stop offset="0.5412" stop-color="#a5317e"/><stop offset="0.5529" stop-color="#a02f7f"/><stop offset="0.5647" stop-color="#9b2e7f"/><stop offset="0.5765" stop-color="#962c80"/><stop offset="0.5882" stop-color="#912b81"/><stop offset="0.6000" stop-color="#8c2981"/><stop offset="0.6118" stop-color="#882781"/><stop offset="0.6235" stop-color="#832681"/><stop offset="0.6353" stop-color="#7e2482"/><stop offset="0.6471" stop-color="#792282"/><stop offset="0.6588" stop-color="#752181"/><stop offset="0.6706" stop-color="#701f81"/><stop offset="0.6824" stop-color="#6b1d81"/><stop offset="0.6941" stop-color="#671b80"/><stop offset="0.7059" stop-color="#621980"/><stop offset="0.7176" stop-color="#5d177f"/><stop offset="0.7294" stop-color="#59157e"/><stop offset="0.7412" stop-color="#54137d"/><stop offset="0.7529" stop-color="#4f127b"/><stop offset="0.7647" stop-color="#4a1079"/><stop offset="0.7765" stop-color="#451077"/><stop offset="0.7882" stop-color="#400f74"/><stop offset="0.8000" stop-color="#3b0f70"/><stop offset="0.8118" stop-color="#36106b"/><stop offset="0.8235" stop-color="#311165"/><stop offset="0.8353" stop-color="#2c115f"/><stop offset="0.8471" stop-color="#271258"/><stop offset="0.8588" stop-color="#221150"/><stop offset="0.8706" stop-color="#1e1149"/><stop offset="0.8824" stop-color="#1a1042"/><stop offset="0.8941" stop-color="#160f3b"/><stop offset="0.9059" stop-color="#130d34"/><stop offset="0.9176" stop-color="#100b2d"/><stop offset="0.9294" stop-color="#0c0926"/><stop offset="0.9412" stop-color="#090720"/><stop offset="0.9529" stop-color="#06051a"/><stop offset="0.9647" stop-color="#040414"/><stop offset="0.9765" stop-color="#02020d"/><stop offset="0.9882" stop-color="#010108"/><stop offset="1.0000" stop-color="#000004"/><stop offset="1" stop-color="#000004"/></linearGradient></defs>
<polygon points="997.60,377.80 1004.80,365.70 1012.00,377.80 1012.00,633.00 1004.80,645.10 997.60,633.00" fill="url(#gBR)"/>
<polygon points="997.60,377.80 1004.80,365.70 1012.00,377.80 1012.00,633.00 1004.80,645.10 997.60,633.00" fill="none" stroke="#000" stroke-width="1.11" stroke-linejoin="miter"/>
<line x1="1012.00" y1="390.20" x2="1017.50" y2="390.20" stroke="#000" stroke-width="1.11"/>
<text x="1021.72" y="395.80" font-size="14.70" textLength="29.69" lengthAdjust="spacingAndGlyphs">17.5</text>
<line x1="1012.00" y1="424.88" x2="1017.50" y2="424.88" stroke="#000" stroke-width="1.11"/>
<text x="1021.72" y="430.48" font-size="14.70" textLength="29.69" lengthAdjust="spacingAndGlyphs">15.0</text>
<line x1="1012.00" y1="459.55" x2="1017.50" y2="459.55" stroke="#000" stroke-width="1.11"/>
<text x="1021.72" y="465.15" font-size="14.70" textLength="29.69" lengthAdjust="spacingAndGlyphs">12.5</text>
<line x1="1012.00" y1="494.22" x2="1017.50" y2="494.22" stroke="#000" stroke-width="1.11"/>
<text x="1021.72" y="499.82" font-size="14.70" textLength="29.69" lengthAdjust="spacingAndGlyphs">10.0</text>
<line x1="1012.00" y1="528.90" x2="1017.50" y2="528.90" stroke="#000" stroke-width="1.11"/>
<text x="1021.72" y="534.50" font-size="14.70" textLength="21.21" lengthAdjust="spacingAndGlyphs">7.5</text>
<line x1="1012.00" y1="563.58" x2="1017.50" y2="563.58" stroke="#000" stroke-width="1.11"/>
<text x="1021.72" y="569.18" font-size="14.70" textLength="21.21" lengthAdjust="spacingAndGlyphs">5.0</text>
<line x1="1012.00" y1="598.25" x2="1017.50" y2="598.25" stroke="#000" stroke-width="1.11"/>
<text x="1021.72" y="603.85" font-size="14.70" textLength="21.21" lengthAdjust="spacingAndGlyphs">2.5</text>
<text transform="translate(1070.00 508.40) rotate(-90)" font-size="14.70" text-anchor="middle" textLength="18.14" lengthAdjust="spacingAndGlyphs">|E|</text>
</svg>
</div>
<script>
(function(){
var RDBU="67001f6a011f6d02207003207304217605217906227c07227f0823810823840924870a248a0b258d0c25900d26930e26960f279910279c11279f1228a21328a51429a81529ab162aae172ab1182bb3192cb41c2db61f2eb72230b82531ba2832bb2a34bd2d35be3036bf3338c13639c2383ac43b3cc53e3dc6413ec84440c94741cb4942cc4c44ce4f45cf5246d05548d25849d35a4ad55d4cd6604dd7634fd86551da6853db6b55dc6e57dd7059de735cdf765ee17860e27b62e37e64e48066e58368e6866ae8896ce98b6eea8e70eb9172ec9374ee9677ef9979f09c7bf19e7df2a17ff3a481f4a683f5a886f5aa89f5ac8bf6af8ef6b191f6b394f7b596f7b799f7b99cf8bb9ef8bda1f8bfa4f9c2a7f9c4a9f9c6acfac8affacab1fbccb4fbceb7fbd0b9fcd3bcfcd5bffcd7c2fdd9c4fddbc7fddcc9fdddcbfcdecdfcdfcffce0d0fce2d2fbe3d4fbe4d6fbe5d8fbe6dafae7dcfae8defae9dffaeae1f9ebe3f9ede5f9eee7f9efe9f9f0ebf8f1edf8f2eff8f3f0f8f4f2f7f5f4f7f6f6f6f7f7f5f6f7f3f5f6f2f5f6f0f4f6eff3f5edf2f5ecf2f5eaf1f5e9f0f4e7f0f4e6eff4e4eef4e3edf3e1edf3e0ecf3deebf2ddebf2dbeaf2dae9f2d8e9f1d7e8f1d5e7f1d4e6f1d2e6f0d1e5f0cfe4efcce2efcae1eec7e0edc5dfecc2ddecc0dcebbddbeabbdaeab8d8e9b6d7e8b3d6e8b1d5e7aed3e6acd2e5a9d1e5a7d0e4a5cee3a2cde3a0cce29dcbe19bc9e098c8e096c7df93c6de90c4dd8dc2dc8ac0db87beda84bcd981bad87eb8d77bb6d678b4d575b2d471b0d36eaed26bacd168abd065a9cf62a7ce5fa5cd5ca3cb59a1ca569fc9529dc84f9bc74c99c64997c54695c44393c34291c2408fc13f8ec03e8cbf3c8abe3b88be3a87bd3885bc3783bb3681ba3480b9337eb8327cb7307ab62f79b52e77b52c75b42b73b32a71b22870b1276eb0266caf246aae2369ad2267ac2065ab1f63a81e61a51d5fa21c5c9f1b5a9c1a589919569618549317529015508d144e8a134c8712498411478110457e0f437b0e41790d3f760c3d730a3b7009386d08366a073467063264053061", MAGMA="00000401000501010601010802010902020b02020d03030f03031204041405041606051806051a07061c08071e0907200a08220b09240c09260d0a290e0b2b100b2d110c2f120d31130d34140e36150e38160f3b180f3d19103f1a10421c10441d11471e114920114b21114e22115024125325125527125829115a2a115c2c115f2d11612f116331116533106734106936106b38106c390f6e3b0f703d0f713f0f72400f74420f75440f764510774710784910784a10794c117a4e117b4f127b51127c52137c54137d56147d57157e59157e5a167e5c167f5d177f5f187f601880621980641a80651a80671b80681c816a1c816b1d816d1d816e1e81701f81721f817320817521817621817822817922827b23827c23827e24828025828125818326818426818627818827818928818b29818c29818e2a81902a81912b81932b80942c80962c80982d80992d809b2e7f9c2e7f9e2f7fa02f7fa1307ea3307ea5317ea6317da8327daa337dab337cad347cae347bb0357bb2357bb3367ab5367ab73779b83779ba3878bc3978bd3977bf3a77c03a76c23b75c43c75c53c74c73d73c83e73ca3e72cc3f71cd4071cf4070d0416fd2426fd3436ed5446dd6456cd8456cd9466bdb476adc4869de4968df4a68e04c67e24d66e34e65e44f64e55064e75263e85362e95462ea5661eb5760ec5860ed5a5fee5b5eef5d5ef05f5ef1605df2625df2645cf3655cf4675cf4695cf56b5cf66c5cf66e5cf7705cf7725cf8745cf8765cf9785df9795df97b5dfa7d5efa7f5efa815ffb835ffb8560fb8761fc8961fc8a62fc8c63fc8e64fc9065fd9266fd9467fd9668fd9869fd9a6afd9b6bfe9d6cfe9f6dfea16efea36ffea571fea772fea973feaa74feac76feae77feb078feb27afeb47bfeb67cfeb77efeb97ffebb81febd82febf84fec185fec287fec488fec68afec88cfeca8dfecc8ffecd90fecf92fed194fed395fed597fed799fed89afdda9cfddc9efddea0fde0a1fde2a3fde3a5fde5a7fde7a9fde9aafdebacfcecaefceeb0fcf0b2fcf2b4fcf4b6fcf6b8fcf7b9fcf9bbfcfbbdfcfdbf";
var AX={"TL": {"L": 75.6, "R": 434.4, "T": 32.45, "B": 294.35, "x0": 255.05, "sx": 28.58, "y0": 163.45, "sy": 28.49}, "TR": {"L": 616.6, "R": 976.4, "T": 32.45, "B": 294.5, "x0": 796.45, "sx": 28.51, "y0": 163.4, "sy": 28.49}, "BL": {"L": 75.6, "R": 434.4, "T": 374.4, "B": 637.2, "x0": 255.05, "sx": 28.58, "y0": 505.95, "sy": 28.61}, "BR": {"L": 616.6, "R": 976.4, "T": 374.4, "B": 637.3, "x0": 796.45, "sx": 28.51, "y0": 505.9, "sy": 28.61}};
function lut(s){var a=new Uint8Array(768);for(var i=0;i<768;i++)a[i]=parseInt(s.substr(2*i,2),16);return a;}
var LRe=lut(RDBU), LAbs=lut(MAGMA);

/* ---------- geometry (half widths, um) ---------- */
function hwA(x){ if(x<-5) return 0.25; if(x>5) return 2.5; return 0.25+0.225*(x+5); }
var PB=[[-7,0.25],[-4.38,0.25],[-4.25,0.29],[-4.14,0.39],[-4.02,0.53],[-3.9,0.63],[-3.78,0.70],[-3.6,0.76],[-3.35,0.81],[-2.9,0.86],[-2.4,0.89],[-2.0,0.905],[-1.85,0.93],[-1.7,1.01],[-1.5,1.11],[-1.3,1.175],[-1.05,1.205],[-0.8,1.2],[-0.5,1.175],[-0.2,1.18],[0.1,1.22],[0.4,1.29],[1.58,1.55],[2.48,1.79],[3.39,2.02],[4.3,2.27],[5.0,2.5],[7,2.5]];
function hwB(x){ for(var i=1;i<PB.length;i++){ if(x<=PB[i][0]){ var a=PB[i-1],b=PB[i]; var t=(x-a[0])/(b[0]-a[0]); return a[1]+t*(b[1]-a[1]); } } return 2.5; }

/* ---------- paraxial Crank-Nicolson BPM ---------- */
function bpm(hw,P){
  var k0=2*Math.PI/P.lam, nc2=P.nc*P.nc, ncl2=P.ncl*P.ncl, n0=P.n0, n02=n0*n0;
  var Y=P.Ymax, dy=P.dy, Ny=Math.round(2*Y/dy)+1, dx=P.dx, xs=P.xs, Nx=Math.round((P.xe-xs)/dx)+1;
  var ys=new Float64Array(Ny), kap=new Float64Array(Ny), j;
  for(j=0;j<Ny;j++){ys[j]=-Y+j*dy; var ay=Math.abs(ys[j]); if(ay>P.Yabs){var t=(ay-P.Yabs)/(Y-P.Yabs); kap[j]=P.kmax*t*t;}}
  var n2=new Float64Array(Ny);
  function n2at(x){var h=hw(x); for(var j=0;j<Ny;j++){var d=(h-Math.abs(ys[j]))/dy+0.5; var f=d<0?0:(d>1?1:d); n2[j]=ncl2+(nc2-ncl2)*f;}}
  var c=dy*dy*k0*k0;
  /* mode: imaginary distance */
  var ur=new Float64Array(Ny), ui=new Float64Array(Ny);
  for(j=0;j<Ny;j++) ur[j]=Math.exp(-ys[j]*ys[j]/(2*0.18*0.18));
  n2at(xs-0.05);
  var D=new Float64Array(Ny), cp=new Float64Array(Ny), dp=new Float64Array(Ny), r=new Float64Array(Ny);
  var a=P.tau/(4*k0*n0*dy*dy);
  for(var it=0;it<P.nit;it++){
    for(j=0;j<Ny;j++){var q=2-c*(n2[j]-n02); D[j]=1+a*q; r[j]=(j>0?a*ur[j-1]:0)+(1-a*q)*ur[j]+(j<Ny-1?a*ur[j+1]:0);}
    var den=D[0]; cp[0]=-a/den; dp[0]=r[0]/den;
    for(j=1;j<Ny;j++){den=D[j]+a*cp[j-1]; cp[j]=-a/den; dp[j]=(r[j]+a*dp[j-1])/den;}
    ur[Ny-1]=dp[Ny-1]; for(j=Ny-2;j>=0;j--) ur[j]=dp[j]-cp[j]*ur[j+1];
    var m=0; for(j=0;j<Ny;j++) if(Math.abs(ur[j])>m) m=Math.abs(ur[j]);
    for(j=0;j<Ny;j++) ur[j]/=m;
  }
  /* real propagation: Pade(1,1) wide-angle CN */
  var outR=new Float32Array(Nx*Ny), outI=new Float32Array(Nx*Ny);
  var k2=k0*k0, idy2=1/(dy*dy);
  var zr=P.pade?1/(4*k2*n02):0, zi=dx/(4*k0*n0);
  /* zL=(zr,-zi) zR=(zr,zi) ; s=zL/dy2 */
  var sr=zr*idy2, si=-zi*idy2;
  var Dr=new Float64Array(Ny), Di=new Float64Array(Ny), rr=new Float64Array(Ny), ri=new Float64Array(Ny);
  var cpr=new Float64Array(Ny), cpi=new Float64Array(Ny), dpr=new Float64Array(Ny), dpi=new Float64Array(Ny);
  var pw=new Float64Array(Nx);
  for(j=0;j<Ny;j++){outR[j]=ur[j]; outI[j]=0; pw[0]+=ur[j]*ur[j]*dy;}
  for(var st=1;st<Nx;st++){
    var xm=xs+(st-0.5)*dx; n2at(xm);
    for(j=0;j<Ny;j++){
      var pr=-2*idy2+k2*(n2[j]-n02), pi=k2*kap[j];
      /* diag = 1 + zL*(pr+i pi) ; zL=(zr,-zi) */
      Dr[j]=1+zr*pr+zi*pi; Di[j]=zr*pi-zi*pr;
      /* Pu = (u[j+1]+u[j-1])*idy2 + (pr+i pi)*u */
      var nbr=((j>0?ur[j-1]:0)+(j<Ny-1?ur[j+1]:0))*idy2, nbi=((j>0?ui[j-1]:0)+(j<Ny-1?ui[j+1]:0))*idy2;
      var Pr=nbr+pr*ur[j]-pi*ui[j], Pi=nbi+pr*ui[j]+pi*ur[j];
      /* r = u + zR*Pu ; zR=(zr,zi) */
      rr[j]=ur[j]+zr*Pr-zi*Pi; ri[j]=ui[j]+zr*Pi+zi*Pr;
    }
    var dr=Dr[0], di=Di[0], dd=dr*dr+di*di;
    cpr[0]=(sr*dr+si*di)/dd; cpi[0]=(si*dr-sr*di)/dd;
    dpr[0]=(rr[0]*dr+ri[0]*di)/dd; dpi[0]=(ri[0]*dr-rr[0]*di)/dd;
    for(j=1;j<Ny;j++){
      /* den = D - s*cp */
      dr=Dr[j]-(sr*cpr[j-1]-si*cpi[j-1]); di=Di[j]-(sr*cpi[j-1]+si*cpr[j-1]); dd=dr*dr+di*di;
      cpr[j]=(sr*dr+si*di)/dd; cpi[j]=(si*dr-sr*di)/dd;
      var nr=rr[j]-(sr*dpr[j-1]-si*dpi[j-1]), ni=ri[j]-(sr*dpi[j-1]+si*dpr[j-1]);
      dpr[j]=(nr*dr+ni*di)/dd; dpi[j]=(ni*dr-nr*di)/dd;
    }
    ur[Ny-1]=dpr[Ny-1]; ui[Ny-1]=dpi[Ny-1];
    for(j=Ny-2;j>=0;j--){
      var tr=cpr[j]*ur[j+1]-cpi[j]*ui[j+1], ti=cpr[j]*ui[j+1]+cpi[j]*ur[j+1];
      ur[j]=dpr[j]-tr; ui[j]=dpi[j]-ti;
    }
    var o=st*Ny, sp=0; for(j=0;j<Ny;j++){outR[o+j]=ur[j]; outI[o+j]=ui[j]; if(Math.abs(ys[j])<P.Yabs) sp+=(ur[j]*ur[j]+ui[j]*ui[j])*dy;} pw[st]=sp;
  }
  return {PW:pw,R:outR,I:outI,Nx:Nx,Ny:Ny,dx:dx,dy:dy,xs:xs,Y:Y,k0:k0,n0:n0};
}

var P={lam:1.0,nc:2.0,ncl:1.0,n0:1.97,Ymax:5.3,Yabs:4.7,kmax:0.6,dy:0.0125,dx:0.0125,xs:-5.5,xe:6.1,tau:0.05,nit:300,pade:1};
var XEND=6.07;

function sstep(a,b,x){var t=(x-a)/(b-a); t=t<0?0:(t>1?1:t); return t*t*(3-2*t);}
function interpU(F,xc,yc){
  var fx=(xc-F.xs)/F.dx, fy=(yc+F.Y)/F.dy;
  var ix=Math.floor(fx), iy=Math.floor(fy); if(ix>F.Nx-2) ix=F.Nx-2; if(ix<0)ix=0;
  if(iy<0)iy=0; if(iy>F.Ny-2)iy=F.Ny-2;
  var tx=fx-ix, ty=fy-iy;
  var o00=ix*F.Ny+iy, o10=o00+F.Ny;
  var ar=(1-tx)*((1-ty)*F.R[o00]+ty*F.R[o00+1])+tx*((1-ty)*F.R[o10]+ty*F.R[o10+1]);
  var ai=(1-tx)*((1-ty)*F.I[o00]+ty*F.I[o00+1])+tx*((1-ty)*F.I[o10]+ty*F.I[o10+1]);
  return [ar,ai];
}
function render(ctx,ax0,F,hw,kind,opt){
  var ax={L:ax0.L,R:ax0.R,T:ax0.T,B:ax0.B,x0:ax0.x0,sx:ax0.sx,y0:ax0.y0-0.45,sy:ax0.sy};
  var L=Math.floor(ax.L), R=Math.ceil(ax.R), T=Math.floor(ax.T), B=Math.ceil(ax.B);
  var W=R-L, H=B-T;
  var vals=new Float32Array(W*H), cov=new Float32Array(W*H), inside=new Uint8Array(W*H), rip=new Float32Array(W*H);
  var k0n0=F.k0*F.n0, ph=opt.phase||0;
  var dbg=null;
  for(var px=0;px<W;px++){
    var xc=(L+px+0.5-ax.x0)/ax.sx;
    var u0=null, wf=0;
    if(opt.flat && xc>=F.xs && xc<=XEND){ wf=sstep(opt.flat[0],opt.flat[1],xc); if(wf>0) u0=interpU(F,xc,0); }
    var h=hw(xc), wb=0, Ab=0, he=h+(opt.blend?opt.blend[2]:0);
    if(opt.blend && xc>=F.xs && xc<=XEND){ wb=sstep(opt.blend[0],opt.blend[1],xc); if(wb>0){ var ixp=Math.min(F.Nx-1,Math.max(0,Math.round((xc-F.xs)/F.dx))); Ab=Math.sqrt(F.PW[ixp]/he); if(!u0) u0=interpU(F,xc,0);} }
    for(var py=0;py<H;py++){
      var yc=(ax.y0-(T+py+0.5))/ax.sy, idx=py*W+px;
      var xp=(L+px+0.5), ypix=(T+py+0.5);
      inside[idx]=(xp>ax.L-0.5&&xp<ax.R+0.5&&ypix>ax.T-0.5&&ypix<ax.B+0.5)?1:0;
      var d=(h-Math.abs(yc))*ax.sy+0.5; cov[idx]=d<0?0:(d>1?1:d);
      var v=0;
      if(xc>=F.xs && xc<=XEND){
        var u=interpU(F,xc,yc), ar=u[0], ai=u[1];
        var ss=(xc-F.xs)*ax.sx; if(ss<1){ar*=ss;ai*=ss;}
        if(u0 && wf>0){
          var cr=ar*u0[0]+ai*u0[1], ci=ai*u0[0]-ar*u0[1];
          var psi=Math.atan2(ci,cr), a0=Math.atan2(u0[1],u0[0]), mag=Math.sqrt(ar*ar+ai*ai);
          var pn=a0+(1-wf)*psi; ar=mag*Math.cos(pn); ai=mag*Math.sin(pn);
        }
        if(wb>0){
          var ay=Math.abs(yc), Mv=ay<he?Math.cos(Math.PI*ay/(2*he)):0;
          var b0=Math.atan2(u0[1],u0[0]);
          ar=(1-wb)*ar+wb*Ab*Mv*Math.cos(b0); ai=(1-wb)*ai+wb*Ab*Mv*Math.sin(b0);
        }
        if(kind==='re'){ var phi=k0n0*(xc-F.xs)+ph; v=ar*Math.cos(phi)-ai*Math.sin(phi); }
        else v=Math.sqrt(ar*ar+ai*ai);
      }
      vals[idx]=v;
      // ripple (normalized units)
      if(opt.rip && xc<=XEND){
        var rp=opt.rip, dxr=xc-rp.cx, r=Math.sqrt(dxr*dxr+yc*yc);
        var dout=Math.abs(yc)-h;
        var m=sstep(rp.m0,rp.m1,dout)*sstep(0.7,1.4,r);
        var ang=Math.atan2(Math.abs(yc),dxr); // 0 toward +x
        m*=sstep(rp.a0,rp.a1,ang)*(1-0.85*sstep(2.2,2.9,ang));
        if(m>0){ var A=rp.A*Math.pow(rp.r0/Math.max(r,0.5),0.5)*m*Math.exp(-Math.max(0,r-rp.rmax)/1.0);
          rip[idx]= (kind==='re') ? -A*Math.cos(2*Math.PI*(r-rp.rph)/rp.per) : A*rp.absf; }
      }
    }
  }
  // robust limits
  var srt=Float32Array.from(vals).sort();
  var p2=srt[Math.floor(0.02*(srt.length-1))], p98=srt[Math.floor(0.98*(srt.length-1))];
  var vmin,vmax;
  if(kind==='re'){ vmax=Math.max(Math.abs(p2),Math.abs(p98))*(opt.vs||1); vmin=-vmax; }
  else { vmin=p2; vmax=p98*(opt.vs||1); }
  var uc=interpU(F,5.5,0), ucm=Math.sqrt(uc[0]*uc[0]+uc[1]*uc[1]);
  var ix55=Math.round((5.5-F.xs)/F.dx); dbg={amp55:ucm/vmax, ampMode:Math.sqrt(F.PW[ix55]/2.6)/vmax};
  var img=ctx.getImageData(L,T,W,H), dat=img.data;
  var Lt=kind==='re'?LRe:LAbs;
  for(var i=0;i<W*H;i++){
    if(!inside[i]) { continue; }
    var t=(vals[i]-vmin)/(vmax-vmin);
    if(kind==='re') t+=rip[i]*0.5; else t+=rip[i];
    var k=Math.floor(t*256); if(k<0)k=0; if(k>255)k=255;
    var cr=Lt[3*k], cg=Lt[3*k+1], cb=Lt[3*k+2], f=cov[i]*0.2;
    var add=kind==='re'?0:255*f;
    dat[4*i]=cr*(1-f)+add; dat[4*i+1]=cg*(1-f)+add; dat[4*i+2]=cb*(1-f)+add; dat[4*i+3]=255;
  }
  ctx.putImageData(img,L,T);
  return [vmin,vmax,dbg];
}

var cv=document.getElementById('cv'), ctx=cv.getContext('2d',{willReadFrequently:true});
try{
  var FA=bpm(hwA,P), FB=bpm(hwB,P);
  var RIPA={cx:-4.95,A:0.028,r0:1.4,rph:1.3,per:0.98,m0:0.05,m1:0.35,a0:0.35,a1:0.9,rmax:5,absf:0.0};
  var RIPB={cx:-4.62,A:0.06,r0:1.1,rph:1.12,per:0.97,m0:0.05,m1:0.35,a0:0.35,a1:0.9,rmax:5,absf:0.0};
  ctx.fillStyle='#fff'; ctx.fillRect(0,0,1082,690);
  render(ctx,AX.TL,FA,hwA,'re',{phase:0,vs:1.08,rip:RIPA});
  render(ctx,AX.TR,FA,hwA,'abs',{vs:1.1});
  render(ctx,AX.BL,FB,hwB,'re',{phase:0,vs:1.07,rip:RIPB,flat:[1.2,3.5],blend:[2.5,4.8,0.1]});
  render(ctx,AX.BR,FB,hwB,'abs',{vs:1.1,flat:[1.2,3.5],blend:[2.5,4.8,0.1]});
}catch(e){ try{ctx.clearRect(0,0,1082,690);}catch(e2){} }
})();

</script>
</body></html>
